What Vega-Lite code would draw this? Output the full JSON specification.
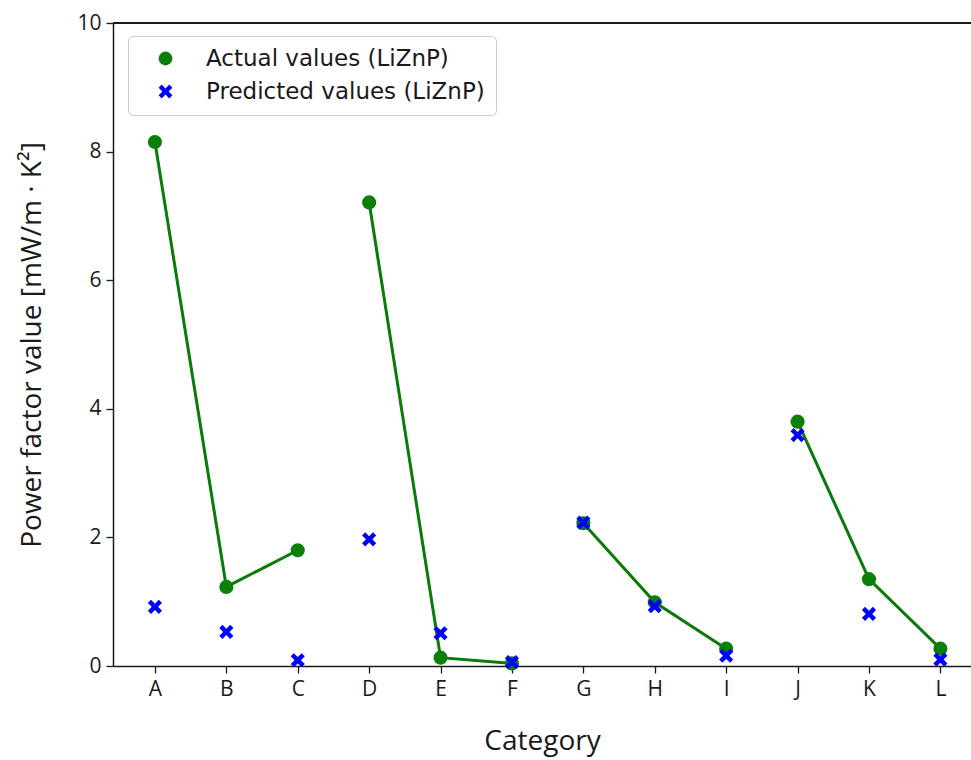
{
  "$schema": "https://vega.github.io/schema/vega-lite/v6.json",
  "width": 858,
  "height": 643,
  "autosize": {"type": "none"},
  "padding": {"left": 113, "top": 23, "right": 0, "bottom": 94},
  "background": "white",
  "config": {
    "view": {"stroke": null},
    "font": "Open Sans",
    "axis": {"grid": false, "domainColor": "#1a1a1a", "domainWidth": 1.5, "tickColor": "#1a1a1a", "tickWidth": 1.3, "tickSize": 7, "labelColor": "#1a1a1a", "labelFontSize": 21, "labelFont": "Open Sans", "titleFont": "Open Sans", "titleFontSize": 28, "titleFontWeight": "normal", "titleColor": "#1a1a1a"}
  },
  "data": {
    "values": [
      {"cat": "A", "group": 1, "series": "Actual values (LiZnP)", "value": 8.15},
      {"cat": "B", "group": 1, "series": "Actual values (LiZnP)", "value": 1.23},
      {"cat": "C", "group": 1, "series": "Actual values (LiZnP)", "value": 1.8},
      {"cat": "D", "group": 2, "series": "Actual values (LiZnP)", "value": 7.21},
      {"cat": "E", "group": 2, "series": "Actual values (LiZnP)", "value": 0.13},
      {"cat": "F", "group": 2, "series": "Actual values (LiZnP)", "value": 0.04},
      {"cat": "G", "group": 3, "series": "Actual values (LiZnP)", "value": 2.22},
      {"cat": "H", "group": 3, "series": "Actual values (LiZnP)", "value": 0.99},
      {"cat": "I", "group": 3, "series": "Actual values (LiZnP)", "value": 0.27},
      {"cat": "J", "group": 4, "series": "Actual values (LiZnP)", "value": 3.8},
      {"cat": "K", "group": 4, "series": "Actual values (LiZnP)", "value": 1.35},
      {"cat": "L", "group": 4, "series": "Actual values (LiZnP)", "value": 0.27},
      {"cat": "A", "group": 1, "series": "Predicted values (LiZnP)", "value": 0.92},
      {"cat": "B", "group": 1, "series": "Predicted values (LiZnP)", "value": 0.53},
      {"cat": "C", "group": 1, "series": "Predicted values (LiZnP)", "value": 0.09},
      {"cat": "D", "group": 2, "series": "Predicted values (LiZnP)", "value": 1.97},
      {"cat": "E", "group": 2, "series": "Predicted values (LiZnP)", "value": 0.51},
      {"cat": "F", "group": 2, "series": "Predicted values (LiZnP)", "value": 0.06},
      {"cat": "G", "group": 3, "series": "Predicted values (LiZnP)", "value": 2.23},
      {"cat": "H", "group": 3, "series": "Predicted values (LiZnP)", "value": 0.93},
      {"cat": "I", "group": 3, "series": "Predicted values (LiZnP)", "value": 0.16},
      {"cat": "J", "group": 4, "series": "Predicted values (LiZnP)", "value": 3.59},
      {"cat": "K", "group": 4, "series": "Predicted values (LiZnP)", "value": 0.81},
      {"cat": "L", "group": 4, "series": "Predicted values (LiZnP)", "value": 0.1}
    ]
  },
  "encoding": {
    "x": {"field": "cat", "type": "ordinal", "title": "Category",
      "scale": {"type": "point", "padding": 0.508, "align": 0.578},
      "axis": {"labelAngle": 0, "labelPadding": 5, "titlePadding": 28}},
    "y": {"field": "value", "type": "quantitative", "title": "Power factor value [mW/m · K²]",
      "scale": {"domain": [0, 10], "nice": false, "zero": true},
      "axis": {"values": [0, 2, 4, 6, 8, 10], "labelPadding": 5, "titlePadding": 30}}
  },
  "layer": [
    {
      "mark": {"type": "rule", "color": "#1a1a1a", "strokeWidth": 1.5},
      "encoding": {"y": {"datum": 10}, "x": null}
    },
    {
      "transform": [{"filter": "datum.series === 'Actual values (LiZnP)'"}],
      "mark": {"type": "line", "color": "#0a7a0a", "strokeWidth": 3},
      "encoding": {"detail": {"field": "group"}}
    },
    {
      "mark": {"type": "point", "filled": true, "opacity": 1, "size": 200},
      "encoding": {
        "color": {"field": "series", "type": "nominal",
          "scale": {"domain": ["Actual values (LiZnP)", "Predicted values (LiZnP)"], "range": ["#0a800a", "#0000ff"]},
          "legend": {"title": null, "orient": "none", "legendX": 15, "legendY": 13, "strokeColor": "#cccccc", "fillColor": "white", "cornerRadius": 5, "padding": 11, "labelFontSize": 23, "labelColor": "#1a1a1a", "labelFont": "DejaVu Sans", "labelLimit": 500, "symbolSize": 190, "rowPadding": 9, "labelOffset": 29, "symbolOffset": 15}},
        "shape": {"field": "series", "type": "nominal",
          "scale": {"domain": ["Actual values (LiZnP)", "Predicted values (LiZnP)"], "range": ["circle", "M-0.55,-1L0,-0.45L0.55,-1L1,-0.55L0.45,0L1,0.55L0.55,1L0,0.45L-0.55,1L-1,0.55L-0.45,0L-1,-0.55Z"]}}
      }
    }
  ]
}
